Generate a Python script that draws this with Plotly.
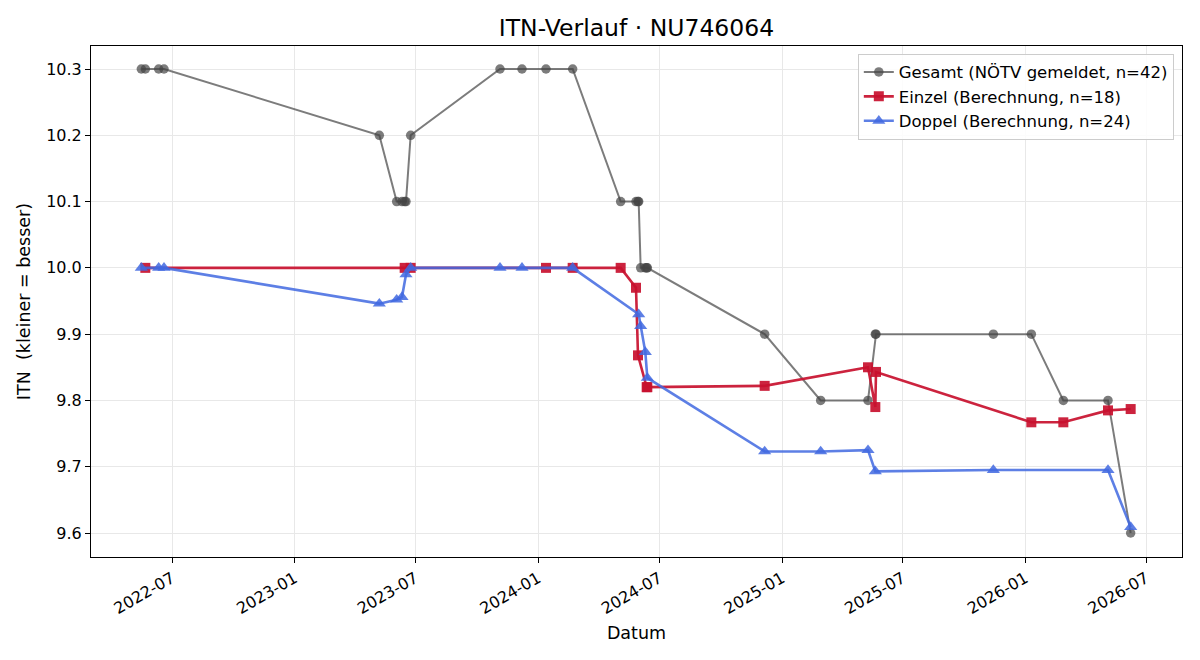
import plotly.graph_objects as go

# ---------------- data ----------------
gesamt_dates = ["2022-05-16", "2022-05-22", "2022-06-11", "2022-06-19", "2023-05-08",
                "2023-06-03", "2023-06-11", "2023-06-15", "2023-06-17", "2023-06-24",
                "2023-11-05", "2023-12-08", "2024-01-13", "2024-02-22", "2024-05-04",
                "2024-05-27", "2024-05-30", "2024-05-31", "2024-06-03", "2024-06-10",
                "2024-06-12", "2024-06-13", "2024-12-06", "2025-02-28", "2025-05-10",
                "2025-05-21", "2025-05-22", "2025-11-14", "2026-01-10", "2026-02-27",
                "2026-05-05", "2026-06-08"]
gesamt_itn = [10.3, 10.3, 10.3, 10.3, 10.2,
              10.1, 10.1, 10.1, 10.1, 10.2,
              10.3, 10.3, 10.3, 10.3, 10.1,
              10.1, 10.1, 10.1, 10.0, 10.0,
              10.0, 10.0, 9.9, 9.8, 9.8,
              9.9, 9.9, 9.9, 9.9, 9.8,
              9.8, 9.6]

einzel_dates = ["2022-05-22", "2023-06-15", "2023-06-24", "2024-01-13", "2024-02-22",
                "2024-05-04", "2024-05-27", "2024-05-30", "2024-06-12", "2024-06-13",
                "2024-12-06", "2025-05-10", "2025-05-21", "2025-05-22", "2026-01-10",
                "2026-02-27", "2026-05-05", "2026-06-08"]
einzel_itn = [10.0, 10.0, 10.0, 10.0, 10.0,
              10.0, 9.97, 9.868, 9.82, 9.82,
              9.822, 9.85, 9.79, 9.843, 9.767,
              9.767, 9.785, 9.787]

doppel_dates = ["2022-05-16", "2022-06-11", "2022-06-19", "2023-05-08", "2023-06-03",
                "2023-06-11", "2023-06-17", "2023-06-24", "2023-11-05", "2023-12-08",
                "2024-02-22", "2024-05-31", "2024-06-03", "2024-06-10", "2024-06-13",
                "2024-12-06", "2025-02-28", "2025-05-10", "2025-05-21", "2025-11-14",
                "2026-05-05", "2026-06-08"]
doppel_itn = [10.0, 10.0, 10.0, 9.946, 9.952,
              9.956, 9.99, 10.0, 10.0, 10.0,
              10.0, 9.93, 9.912, 9.873, 9.834,
              9.723, 9.723, 9.725, 9.693, 9.695,
              9.695, 9.609]

x_tick_vals = ["2022-07-01", "2023-01-01", "2023-07-01", "2024-01-01", "2024-07-01",
               "2025-01-01", "2025-07-01", "2026-01-01", "2026-07-01"]
x_tick_text = ["2022-07", "2023-01", "2023-07", "2024-01", "2024-07",
               "2025-01", "2025-07", "2026-01", "2026-07"]
y_tick_vals = [9.6, 9.7, 9.8, 9.9, 10.0, 10.1, 10.2, 10.3]

title_text = "ITN-Verlauf · NU746064"
name_gesamt = "Gesamt (NÖTV gemeldet, n=42)"
name_einzel = "Einzel (Berechnung, n=18)"
name_doppel = "Doppel (Berechnung, n=24)"

# ---------------- figure ----------------
FONT = "DejaVu Sans, Liberation Sans, sans-serif"
grey = "rgba(68,68,68,0.7)"
red = "rgba(200,16,46,0.92)"
blue = "rgba(65,105,225,0.85)"

fig = go.Figure()
fig.add_trace(go.Scatter(x=gesamt_dates, y=gesamt_itn, mode="lines+markers", name=name_gesamt,
                         line=dict(color=grey, width=2),
                         marker=dict(symbol="circle", size=9.5, color=grey)))
fig.add_trace(go.Scatter(x=einzel_dates, y=einzel_itn, mode="lines+markers", name=name_einzel,
                         line=dict(color=red, width=2.6),
                         marker=dict(symbol="square", size=10, color=red)))
fig.add_trace(go.Scatter(x=doppel_dates, y=doppel_itn, mode="lines+markers", name=name_doppel,
                         line=dict(color=blue, width=2.6),
                         marker=dict(symbol="triangle-up", size=11.5, color=blue)))

axis_common = dict(showline=True, linecolor="black", linewidth=1, mirror=True,
                   ticks="outside", ticklen=5, tickcolor="black", tickwidth=1,
                   showgrid=True, gridcolor="#e8e8e8", gridwidth=1, zeroline=False,
                   tickfont=dict(family=FONT, size=16, color="black"))

fig.update_layout(
    width=1200, height=660,
    paper_bgcolor="white", plot_bgcolor="white",
    margin=dict(l=91, r=18, t=46, b=103),
    font=dict(family=FONT, color="black"),
    title=dict(text=title_text, x=0.5, xanchor="center", xref="paper",
               y=1 - 28 / 660, yref="container", yanchor="middle",
               font=dict(family=FONT, size=23.5, color="black")),
    showlegend=True,
    legend=dict(x=0.9925, y=0.985, xanchor="right", yanchor="top",
                bgcolor="rgba(255,255,255,0.85)", bordercolor="#cccccc", borderwidth=1,
                font=dict(family=FONT, size=16.5, color="black"), tracegroupgap=2),
)
fig.update_xaxes(type="date", range=["2022-03-01 12:00", "2026-08-24"],
                 tickvals=x_tick_vals, ticktext=x_tick_text, tickangle=-30,
                 title=dict(text="Datum", font=dict(family=FONT, size=17.5), standoff=9),
                 **axis_common)
fig.update_yaxes(range=[9.5638, 10.3347], tickvals=y_tick_vals, tickformat=".1f",
                 title=dict(text="ITN  (kleiner = besser)", font=dict(family=FONT, size=17.5), standoff=11),
                 **axis_common)

fig.write_html("out.html")
